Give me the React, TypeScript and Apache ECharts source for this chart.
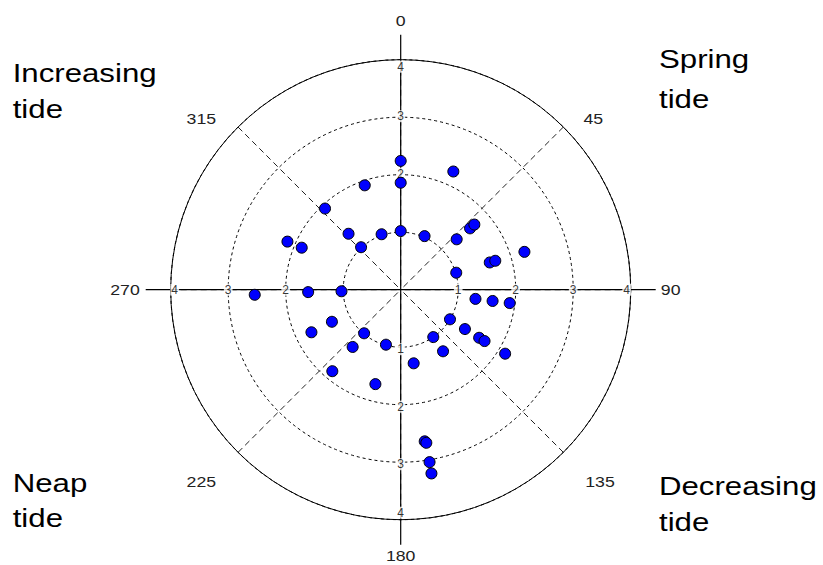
import React, { useEffect, useRef } from 'react';
import * as echarts from 'echarts';

// Observations: radius (tidal amplitude units) and direction (degrees clockwise from north)
const pointRadius = [
  2.24, 2.25, 1.86, 1.92, 1.93, 1.02, 1.02, 1.33, 1.01, 1.02,
  2.14, 1.87, 1.31, 1.61, 1.71, 2.25, 1.62, 1.72, 1.01, 2.54,
  1.61, 1.03, 1.31, 1.61, 1.91, 1.0, 1.31, 1.6, 1.71, 1.0,
  1.3, 2.13, 1.3, 1.32, 1.72, 0.99, 1.3, 0.99, 1.85, 1.7,
  2.67, 2.7, 3.04, 3.24,
];
const pointAngle = [
  0, 24, 0, 341, 317, 0, 341, 317, 317, 24,
  293, 293, 48, 48.5, 48.5, 73, 73, 73, 73, 268,
  268.5, 268.5, 97, 97, 97, 121, 121.5, 121.5, 121.5, 145.5,
  145.5, 121.5, 170, 245, 244.5, 220, 220, 195, 220, 195,
  171, 170.5, 170.5, 170.5,
];

const tickValues = [1, 2, 3, 4];
const axisDirections = [0, 90, 180, 270];
const angleLabels = ['0', '45', '90', '135', '180', '225', '270', '315'];
const cornerLabels = [
  ['Increasing', 'tide'],
  ['Spring', 'tide'],
  ['Neap', 'tide'],
  ['Decreasing', 'tide'],
];

export default function App() {
  const ref = useRef<HTMLDivElement>(null);

  useEffect(() => {
    if (!ref.current) return;
    const chart = echarts.init(ref.current, null, { renderer: 'svg' });

    const cx = 400.7;
    const cy = 289.7;
    const R = 230;
    const axisR = 255;
    const font = '"Liberation Sans", Arial, sans-serif';

    const scatterData = pointRadius.map((r, i) => [r, pointAngle[i]]);

    const tickData: any[] = [];
    axisDirections.forEach((dir) => {
      tickValues.forEach((t) => {
        let offset = [0, 0];
        if (t === 4) {
          if (dir === 0) offset = [0, 7];
          else if (dir === 180) offset = [0, -7];
          else if (dir === 90) offset = [-4, 0];
          else offset = [4, 0];
        } else if (dir === 0) offset = [0, -1];
        else if (dir === 180) offset = [0, 2];
        tickData.push({ value: [t, dir], label: { offset } });
      });
    });

    const anglePos: Record<string, [number, number]> = {
      '0': [cx, 20.7],
      '45': [593.3, 118.3],
      '90': [670.7, 290],
      '135': [600, 481.7],
      '180': [cx, 556],
      '225': [201.3, 481.7],
      '270': [125, 290],
      '315': [201.3, 118.3],
    };

    const cornerPos: [number, number, number][] = [
      [12.7, 73, 109],
      [659, 59, 99],
      [12.7, 482.7, 517.7],
      [659, 486, 522],
    ];

    const graphics: any[] = [];
    angleLabels.forEach((lab) => {
      const p = anglePos[lab];
      graphics.push({
        type: 'text',
        x: p[0],
        y: p[1],
        scaleX: 1.18,
        silent: true,
        style: {
          text: lab,
          fill: '#222',
          font: `15px ${font}`,
          align: 'center',
          verticalAlign: 'middle',
        },
      });
    });
    cornerLabels.forEach((lines, i) => {
      const p = cornerPos[i];
      lines.forEach((line, j) => {
        graphics.push({
          type: 'text',
          x: p[0],
          y: p[1 + j],
          scaleX: 1.2,
          silent: true,
          style: {
            text: line,
            fill: '#000',
            font: `26px ${font}`,
            align: 'left',
            verticalAlign: 'middle',
          },
        });
      });
    });

    chart.setOption({
      animation: false,
      backgroundColor: '#fff',
      polar: [
        { center: [cx, cy], radius: R },
        { center: [cx, cy], radius: axisR },
      ],
      angleAxis: [
        {
          polarIndex: 0,
          type: 'value',
          min: 0,
          max: 360,
          interval: 45,
          startAngle: 90,
          clockwise: true,
          axisLine: { show: true, lineStyle: { color: '#000', width: 1 } },
          axisTick: { show: false },
          axisLabel: { show: false },
          splitLine: { show: true, lineStyle: { color: '#222', width: 1, type: [6, 4] } },
          z: 1,
        },
        {
          polarIndex: 1,
          type: 'value',
          min: 0,
          max: 360,
          interval: 90,
          startAngle: 90,
          clockwise: true,
          axisLine: { show: false },
          axisTick: { show: false },
          axisLabel: { show: false },
          splitLine: { show: true, lineStyle: { color: '#000', width: 1.2, type: 'solid' } },
          z: 2,
        },
      ],
      radiusAxis: [
        {
          polarIndex: 0,
          type: 'value',
          min: 0,
          max: 4,
          interval: 1,
          axisLine: { show: false },
          axisTick: { show: false },
          axisLabel: { show: false },
          splitLine: { show: true, lineStyle: { color: '#000', width: 1, type: [3, 3] } },
          z: 1,
        },
        {
          polarIndex: 1,
          type: 'value',
          min: 0,
          max: 4,
          interval: 1,
          axisLine: { show: false },
          axisTick: { show: false },
          axisLabel: { show: false },
          splitLine: { show: false },
        },
      ],
      series: [
        {
          type: 'scatter',
          coordinateSystem: 'polar',
          polarIndex: 0,
          silent: true,
          symbolSize: 1,
          itemStyle: { color: 'rgba(0,0,0,0)' },
          label: {
            show: true,
            position: 'inside',
            formatter: (p: any) => String(p.value[0]),
            color: '#000',
            fontSize: 12,
            fontFamily: font,
            backgroundColor: '#fff',
            padding: [0, 1],
          },
          data: tickData,
          z: 3,
        },
        {
          type: 'scatter',
          coordinateSystem: 'polar',
          polarIndex: 0,
          symbol: 'circle',
          symbolSize: 11,
          itemStyle: { color: '#0000ff', borderColor: '#000', borderWidth: 1, opacity: 1 },
          data: scatterData,
          z: 5,
        },
      ],
      graphic: graphics,
    });

    return () => chart.dispose();
  }, []);

  return (
    <div
      ref={ref}
      style={{ position: 'fixed', left: 0, top: 0, width: 823, height: 565, background: '#fff' }}
    />
  );
}
